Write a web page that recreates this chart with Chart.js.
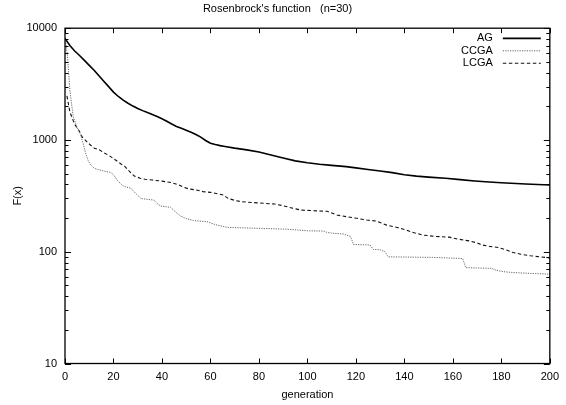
<!DOCTYPE html>
<html><head><meta charset="utf-8">
<style>html,body{margin:0;padding:0;background:#fff;overflow:hidden}#wrap{width:566px;height:405px}</style>
<script src="https://cdn.jsdelivr.net/npm/chart.js@4.4.0/dist/chart.umd.min.js"></script>
</head><body><div id="wrap"><canvas id="c" width="566" height="405"></canvas></div>
<script>
const chartTitle = "Rosenbrock's function   (n=30)";
const xLabel = 'generation';
const yLabel = 'F(x)';
const seriesNames = ['AG', 'CCGA', 'LCGA'];
const xTicks = [0, 20, 40, 60, 80, 100, 120, 140, 160, 180, 200];
const yTicks = [10, 100, 1000, 10000];

const agGen = [0,2,4,6,8,10,12,14,16,18,20,22,24,26,28,30,32,34,36,38,40,42,44,46,48,50,52,54,56,58,60,62,64,66,70,75,80,85,90,95,100,105,110,116,120,125,130,135,140,145,150,157,163,169,175,180,186,190,195,200];
const agVal = [8100,7000,6250,5700,5150,4650,4200,3750,3350,3000,2680,2450,2270,2130,2010,1910,1830,1760,1690,1620,1550,1470,1390,1320,1270,1220,1170,1120,1060,990,935,910,890,875,845,815,780,735,690,650,625,606,592,577,563,545,527,510,488,475,465,454,442,430,420,414,408,404,400,396];

const ccGen = [0,0.5,1,1.5,2,2.7,3.4,4.5,5.5,6.5,7.5,8.5,9.5,10.5,12,14.3,16.3,19,20.4,21.8,23.8,25.5,27.2,29,31.3,34,36.7,38,39.5,43.5,45.5,47.6,50,53,58.5,62,65.3,67.3,79.6,91.8,100,106.8,108,110.9,115,117.7,118.5,119,125.8,126.5,127.2,130,132,133.3,151.7,164,164.8,165.3,176,178,181.6,185.7,192,200];
const ccVal = [7800,7000,5700,4000,2800,2100,1620,1380,1220,1100,930,760,660,600,558,538,525,512,475,430,390,378,370,335,300,294,290,270,256,250,228,209,198,190,186,175,168,165,162,159,154,153,149,146,144,137,125,116,115,110,105,104,100,90,89,87,78,72,71,68,66,65,64,63];

const lcGen = [0.8,2,3,4,6,7,9,11,12.2,14.3,16,18.4,20,21.8,23.1,24.5,26,28.6,31,33,36,40,44,47,49,51,54,57,60,63,65.3,67.3,70,72.8,80,86.4,90,94,97.3,104,108.2,112.2,116,120.4,124.5,128.6,132.7,137,140.8,144,147.6,153,158.5,162,166.7,170,172,176,178.9,182,184.4,188,192,196,200];
const lcVal = [2480,1790,1560,1380,1190,1070,966,880,843,814,770,720,680,640,610,585,540,475,455,445,438,428,415,395,377,365,357,345,340,330,322,300,288,280,273,267,258,245,236,232,230,213,206,199,192,188,173,165,156,148,141,137,135,130,125,120,115,111,109,104,99,95,92,90,88];

const pts = (xs, ys) => xs.map((x, i) => ({x: x, y: ys[i]}));
const FONT = "'Liberation Sans', Arial, Helvetica, sans-serif";
Chart.defaults.font.family = FONT;
Chart.defaults.color = '#000';

const frameTicks = {
  id: 'frameTicks',
  afterDatasetsDraw(chart) {
    const {ctx, chartArea: {left, right, top, bottom}, scales: {x, y}} = chart;
    ctx.save();
    ctx.strokeStyle = '#000';
    ctx.setLineDash([]);
    ctx.lineWidth = 1;
    ctx.beginPath();
    xTicks.forEach(v => {
      const px = Math.round(x.getPixelForValue(v)) + 0.5;
      ctx.moveTo(px, bottom); ctx.lineTo(px, bottom - 5);
      ctx.moveTo(px, top); ctx.lineTo(px, top + 5);
    });
    const eMin = Math.log10(yTicks[0]), eMax = Math.log10(yTicks[yTicks.length - 1]);
    for (let e = eMin; e <= eMax; e++) {
      for (let m = 1; m <= 9; m++) {
        const v = m * Math.pow(10, e);
        if (v > yTicks[yTicks.length - 1] + 1e-9) break;
        const py = Math.round(y.getPixelForValue(v)) + 0.5;
        const len = m === 1 ? 6 : 3.5;
        ctx.moveTo(left, py); ctx.lineTo(left + len, py);
        ctx.moveTo(right, py); ctx.lineTo(right - len, py);
      }
    }
    ctx.stroke();
    ctx.lineWidth = 1.3;
    ctx.strokeRect(left, top, right - left, bottom - top);

    // key (legend), gnuplot style: text right-aligned, line sample on the right
    ctx.font = "11px " + FONT;
    ctx.textAlign = 'right';
    ctx.textBaseline = 'middle';
    ctx.fillStyle = '#000';
    chart.data.datasets.forEach((ds, i) => {
      const yy = top + 10.2 + i * 12.4;
      ctx.fillText(ds.label, right - 57, yy);
      ctx.save();
      ctx.strokeStyle = ds.borderColor;
      ctx.lineWidth = ds.borderWidth;
      ctx.setLineDash(ds.borderDash || []);
      ctx.beginPath();
      ctx.moveTo(right - 47, yy); ctx.lineTo(right - 9, yy);
      ctx.stroke();
      ctx.restore();
    });
    ctx.restore();
  }
};

new Chart(document.getElementById('c'), {
  type: 'line',
  data: {
    datasets: [
      {label: seriesNames[0], data: pts(agGen, agVal), borderColor: '#000', borderWidth: 1.6, borderDash: []},
      {label: seriesNames[1], data: pts(ccGen, ccVal), borderColor: '#666', borderWidth: 1, borderDash: [1.2, 1.2]},
      {label: seriesNames[2], data: pts(lcGen, lcVal), borderColor: '#111', borderWidth: 1.1, borderDash: [3.5, 2.5]}
    ]
  },
  options: {
    responsive: false,
    animation: false,
    events: [],
    elements: {point: {radius: 0}, line: {tension: 0, fill: false}},
    layout: {padding: {left: 0, right: 11, top: 0, bottom: 0}},
    plugins: {
      legend: {display: false},
      tooltip: {enabled: false},
      title: {display: true, text: chartTitle, color: '#000', font: {size: 11, weight: 'normal'}, padding: {top: 2, bottom: 13}}
    },
    scales: {
      x: {
        type: 'linear', min: 0, max: 200,
        afterFit: s => { s.height = 41.5; },
        afterBuildTicks: s => { s.ticks = xTicks.map(v => ({value: v})); },
        grid: {display: false, drawTicks: false},
        border: {display: false},
        ticks: {font: {size: 11}, color: '#000', padding: 7, maxRotation: 0, autoSkip: false},
        title: {display: true, text: xLabel, color: '#000', font: {size: 11}, padding: {top: 0, bottom: 3.4}}
      },
      y: {
        type: 'logarithmic', min: 10, max: 10000,
        afterFit: s => { s.width = 65; },
        afterBuildTicks: s => { s.ticks = yTicks.map(v => ({value: v})); },
        grid: {display: false, drawTicks: false},
        border: {display: false},
        ticks: {font: {size: 11}, color: '#000', padding: 8, autoSkip: false, callback: v => String(v)},
        title: {display: true, text: yLabel, color: '#000', font: {size: 11}, padding: {top: 11, bottom: 0}}
      }
    }
  },
  plugins: [frameTicks]
});
</script>
</body></html>
